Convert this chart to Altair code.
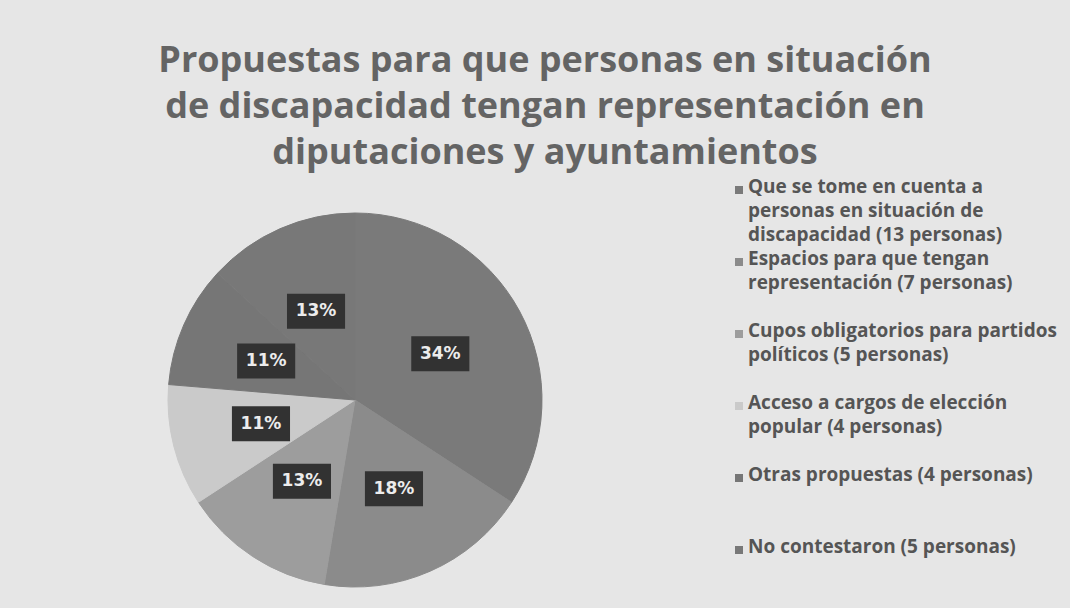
import altair as alt
import pandas as pd

# ---------------- data ----------------
title_lines = [
    "Propuestas para que personas en situación",
    "de discapacidad tengan representación en",
    "diputaciones y ayuntamientos",
]
categories = [
    "Que se tome en cuenta a personas en situación de discapacidad (13 personas)",
    "Espacios para que tengan representación  (7 personas)",
    "Cupos obligatorios para partidos políticos (5 personas)",
    "Acceso a cargos de elección popular (4 personas)",
    "Otras propuestas (4 personas)",
    "No contestaron (5 personas)",
]
legend_text = [
    "Que se tome en cuenta a\npersonas en situación de\ndiscapacidad (13 personas)",
    "Espacios para que tengan\nrepresentación  (7 personas)",
    "Cupos obligatorios para partidos\npolíticos (5 personas)",
    "Acceso a cargos de elección\npopular (4 personas)",
    "Otras propuestas (4 personas)",
    "No contestaron (5 personas)",
]
counts = [13, 7, 5, 4, 4, 5]
colors = ["#7a7a7a", "#8b8b8b", "#9d9d9d", "#cacaca", "#767676", "#787878"]

df = pd.DataFrame({
    "cat": categories,
    "legend": legend_text,
    "count": counts,
    "order": list(range(len(categories))),
})

# ---------------- layout constants ----------------
W, H = 1070, 608
TOP = 180
CX, CY, R = 355, 400 - TOP, 187
LR = 97

color_scale = alt.Scale(domain=categories, range=colors)
color = alt.Color("cat:N", scale=color_scale, legend=None)
base = alt.Chart(df)

pie = base.mark_arc(outerRadius=R, strokeWidth=1).encode(
    theta=alt.Theta("count:Q", stack=True),
    order=alt.Order("order:Q"),
    color=color,
    stroke=alt.Stroke("cat:N", scale=color_scale, legend=None),
    x=alt.value(CX),
    y=alt.value(CY),
)

lab = base.transform_joinaggregate(total="sum(count)").transform_window(
    cum="sum(count)", sort=[alt.SortField("order")], frame=[None, 0]
).transform_calculate(
    mid="(datum.cum - datum.count / 2) / datum.total * 2 * PI",
    px=f"{CX} + {LR} * sin(datum.mid)",
    py=f"{CY} - {LR} * cos(datum.mid)",
    pct="format(datum.count / datum.total, '.0%')",
)

boxes = lab.mark_point(
    shape="M-1.66,-1L1.66,-1L1.66,1L-1.66,1Z",
    filled=True, size=1225, color="#323232", opacity=1, strokeWidth=0,
).encode(
    x=alt.X("px:Q", scale=None, axis=None),
    y=alt.Y("py:Q", scale=None, axis=None),
)

texts = lab.mark_text(
    font="DejaVu Sans", fontSize=17, fontWeight="bold", color="#ececec",
).encode(
    x=alt.X("px:Q", scale=None, axis=None),
    y=alt.Y("py:Q", scale=None, axis=None),
    text="pct:N",
)

ly = alt.Y("cat:N", scale=alt.Scale(domain=categories, range=[10, 370], padding=0), axis=None)

leg_sym = base.mark_square(size=64, filled=True, opacity=1).encode(
    x=alt.value(739),
    y=ly,
    color=color,
)
leg_txt = base.mark_text(
    align="left", baseline="top", dy=-12, lineBreak="\n", lineHeight=24,
    font="Open Sans", fontSize=19, fontWeight="bold", color="#555555",
).encode(
    x=alt.value(748),
    y=ly,
    text="legend:N",
)

pie_layer = alt.layer(pie, boxes, texts)
leg_layer = alt.layer(leg_sym, leg_txt)

chart = alt.layer(pie_layer, leg_layer).resolve_scale(y="independent", x="independent").properties(
    width=W,
    height=H - TOP,
    padding={"left": 0, "top": TOP, "right": 0, "bottom": 0},
    autosize=alt.AutoSizeParams(type="none"),
    background="#e6e6e6",
    title=alt.TitleParams(
        text=title_lines,
        font="Open Sans",
        fontSize=36,
        fontWeight="bold",
        color="#646464",
        lineHeight=46,
        anchor="middle",
        dx=10,
        offset=6,
    ),
).configure_view(stroke=None)

chart.save("out.html", embed_options={"renderer": "svg", "actions": False})
